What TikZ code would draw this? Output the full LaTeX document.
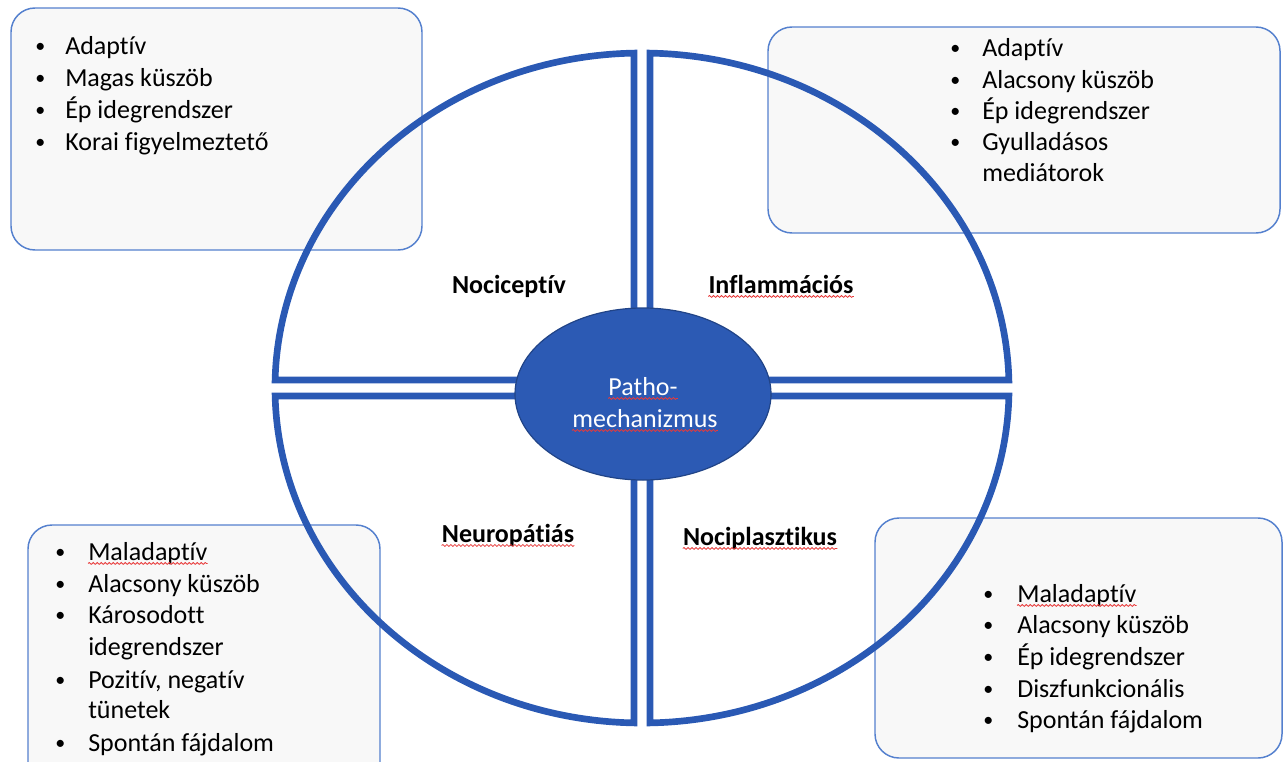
\documentclass[tikz,border=0pt]{standalone}
\usepackage{fontspec}
\setmainfont{Carlito}[Ligatures={NoCommon}]
\usetikzlibrary{decorations.pathmorphing}
\definecolor{ringblue}{RGB}{42,89,180}
\definecolor{ovalblue}{RGB}{44,90,180}
\definecolor{boxedge}{RGB}{84,128,206}
\definecolor{boxfill}{RGB}{248,248,248}
\definecolor{wavyred}{RGB}{232,58,58}
\newcommand{\bitem}[5]{%
  \node[bul] (#1b) at (#2,#4) {\textbullet};
  \node[itemtxt] (#1) at (#3,#4) {#5};}
\newcommand{\contline}[4]{%
  \node[itemtxt] (#1) at (#2,#3) {#4};}
\begin{document}
\begin{tikzpicture}[x=0.75pt,y=-0.75pt,
  quad/.style={draw=ringblue, line width=5pt, line join=miter},
  infobox/.style={draw=boxedge, fill=boxfill, line width=1.1pt, rounded corners=18pt},
  itemtxt/.style={anchor=base west, inner sep=0pt, font=\fontsize{19.5pt}{24pt}\selectfont},
  bul/.style={anchor=base west, inner sep=0pt, font=\fontsize{15pt}{24pt}\selectfont, yshift=1pt},
  lbl/.style={anchor=base, inner sep=0pt, font=\fontsize{19.5pt}{24pt}\selectfont\bfseries},
  ctxt/.style={anchor=base, inner sep=0pt, text=white, font=\fontsize{19.5pt}{24pt}\selectfont},
  wavy/.style={draw=wavyred, line width=0.6pt, decorate, decoration={snake, segment length=3pt, amplitude=0.7pt}},
]
\useasboundingbox (0,0) rectangle (1284,761);
\clip (0,0) rectangle (1284,761);

% info boxes
\draw[infobox] (11,8) rectangle (422,250);
\draw[infobox] (768,27) rectangle (1280,233);
\draw[infobox] (28,525) rectangle (380,790);
\draw[infobox] (875,518) rectangle (1282,758);

% quadrants of the ring
\draw[quad] (634,380) -- (275.1,380) arc[start angle=181.37, end angle=268.75, x radius=367, y radius=335] -- cycle;
\draw[quad] (650,380) -- (650,53.1) arc[start angle=-88.75, end angle=-1.37, x radius=367, y radius=335] -- cycle;
\draw[quad] (634,396) -- (634,722.9) arc[start angle=91.25, end angle=178.63, x radius=367, y radius=335] -- cycle;
\draw[quad] (650,396) -- (1008.9,396) arc[start angle=1.37, end angle=88.75, x radius=367, y radius=335] -- cycle;

% centre oval
\draw[fill=ovalblue, draw=ovalblue!75!black, line width=0.9pt] (643,394) ellipse [x radius=128, y radius=86];
\node[ctxt] (patho) at (643,395) {Patho-};
\node[ctxt] (mech) at (645,427) {mechanizmus};
\draw[wavy] ([yshift=-2.6pt]patho.base west) -- ([yshift=-2.6pt]patho.base east);
\draw[wavy] ([yshift=-2.6pt]mech.base west) -- ([yshift=-2.6pt]mech.base east);

% quadrant labels
\node[lbl] (noci) at (509,293) {Nociceptív};
\node[lbl] (infl) at (781,293) {Inflammációs};
\node[lbl] (neuro) at (508,542) {Neuropátiás};
\node[lbl] (nplas) at (760,545) {Nociplasztikus};
\draw[wavy] ([yshift=-2.6pt]infl.base west) -- ([yshift=-2.6pt]infl.base east);
\draw[wavy] ([yshift=-2.6pt]neuro.base west) -- ([yshift=-2.6pt]neuro.base east);
\draw[wavy] ([yshift=-2.6pt]nplas.base west) -- ([yshift=-2.6pt]nplas.base east);

% top-left list
\bitem{tla}{35}{65}{54}{Adaptív}
\bitem{tlb}{35}{65}{86}{Magas küszöb}
\bitem{tlc}{35}{65}{118}{Ép idegrendszer}
\bitem{tld}{35}{65}{150}{Korai figyelmeztető}

% top-right list
\bitem{tra}{950}{982}{56}{Adaptív}
\bitem{trb}{950}{982}{88}{Alacsony küszöb}
\bitem{trc}{950}{982}{119}{Ép idegrendszer}
\bitem{trd}{950}{982}{150}{Gyulladásos}
\contline{tre}{982}{181}{mediátorok}

% bottom-left list
\bitem{bla}{55}{88}{560}{Maladaptív}
\bitem{blb}{55}{88}{592}{Alacsony küszöb}
\bitem{blc}{55}{88}{623}{Károsodott}
\contline{bld}{88}{655}{idegrendszer}
\bitem{ble}{55}{88}{688}{Pozitív, negatív}
\contline{blf}{88}{718}{tünetek}
\bitem{blg}{55}{88}{751}{Spontán fájdalom}
\draw[wavy] ([yshift=-2.6pt]bla.base west) -- ([yshift=-2.6pt]bla.base east);

% bottom-right list
\bitem{bra}{983}{1017}{602}{Maladaptív}
\bitem{brb}{983}{1017}{633}{Alacsony küszöb}
\bitem{brc}{983}{1017}{665}{Ép idegrendszer}
\bitem{brd}{983}{1017}{697}{Diszfunkcionális}
\bitem{bre}{983}{1017}{728}{Spontán fájdalom}
\draw[wavy] ([yshift=-2.6pt]bra.base west) -- ([yshift=-2.6pt]bra.base east);
\end{tikzpicture}
\end{document}
